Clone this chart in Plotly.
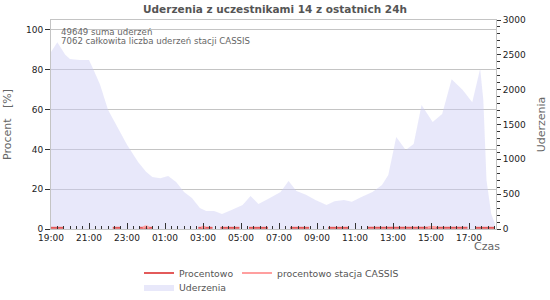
import plotly.graph_objects as go
import pandas as pd

day0 = "2024-01-01"
day1 = "2024-01-02"

# Strike counts (Uderzenia) - time of day and value
strike_times = ["19:00", "19:20", "19:45", "20:00", "20:30", "21:00", "21:15", "21:35",
                "22:00", "22:30", "23:00", "23:35", "00:00", "00:20", "00:45", "01:10",
                "01:35", "02:00", "02:25", "02:50", "03:10", "03:35", "04:00", "04:30",
                "05:05", "05:30", "05:55", "06:25", "07:05", "07:30", "07:55", "08:25",
                "08:55", "09:30", "09:55", "10:25", "10:50", "11:20", "11:55", "12:25",
                "12:45", "13:10", "13:40", "14:05", "14:30", "15:05", "15:35", "16:05",
                "16:40", "17:10", "17:35", "17:45", "17:55", "18:10", "18:22"]
strike_values = [2540, 2680, 2500, 2440, 2425, 2425, 2280, 2070,
                 1710, 1460, 1210, 960, 820, 745, 730, 760,
                 675, 530, 445, 300, 258, 258, 215, 273,
                 345, 475, 360, 430, 530, 690, 545, 490,
                 415, 345, 400, 415, 390, 460, 530, 630,
                 775, 1320, 1135, 1220, 1780, 1535, 1650, 2150,
                 1995, 1820, 2300, 1850, 700, 215, 70]

# Percent series (None = gap)
pct_times = ["19:00", "19:40", "19:50", "22:15", "22:40", "22:50", "23:40", "00:20", "00:30",
             "02:45", "03:30", "03:40", "03:55", "04:55", "05:10", "05:25", "06:25", "07:00",
             "07:35", "08:35", "09:00", "09:35", "10:40", "11:00", "11:40", "16:55", "17:10",
             "17:20", "18:20"]
pct_values = [0.6, 0.6, None, 0.6, 0.6, None, 0.6, 0.6, None,
              0.6, 0.6, None, 0.6, 0.6, None, 0.6, 0.6, None,
              0.6, 0.6, None, 0.6, 0.6, None, 0.6, 0.6, None,
              0.6, 0.6]

cassis_times = ["23:50", "23:57", "00:03", "00:10", "00:15", "02:55", "03:00", "03:08", "03:15",
                "14:50", "14:55", "15:10", "15:15"]
cassis_values = [0.6, 1.2, 1.2, 0.6, None, 0.6, 1.1, 0.9, None,
                 0.6, 1.0, 1.0, 0.6]


def to_dt(times):
    out = []
    for t in times:
        h = int(t[:2])
        d = day0 if h >= 19 else day1
        out.append(pd.Timestamp(f"{d} {t}"))
    return out


def py(px):
    # pixel row -> paper coordinate (plot area spans rows 20..229)
    return (229 - px) / 209


def pxx(px):
    return (px - 51) / 445


fig = go.Figure()

fig.add_trace(go.Scatter(
    x=to_dt(strike_times), y=strike_values, name="Uderzenia",
    mode="lines", line=dict(width=0, color="rgba(204,204,245,0.45)"),
    fill="tozeroy", fillcolor="rgba(204,204,245,0.45)",
    yaxis="y", legend="legend3", hoverinfo="skip"))

fig.add_trace(go.Scatter(
    x=to_dt(pct_times), y=pct_values, name="Procentowo",
    mode="lines", line=dict(width=2, color="#e35a5a"), connectgaps=False,
    yaxis="y2", legend="legend"))

fig.add_trace(go.Scatter(
    x=to_dt(cassis_times), y=cassis_values, name="procentowo stacja CASSIS",
    mode="lines", line=dict(width=2, color="#ff9f9f"), connectgaps=False,
    yaxis="y2", legend="legend2"))

tickfont = dict(family="DejaVu Sans", size=9, color="#222")
gray = "#c4c4c4"
legfont = dict(family="DejaVu Sans", size=9.3, color="#555")

fig.update_layout(
    width=550, height=300,
    margin=dict(l=51, r=54, t=20, b=71, autoexpand=False),
    paper_bgcolor="white", plot_bgcolor="white",
    font=dict(family="DejaVu Sans", size=10, color="#555"),
    title=dict(text="<b>Uderzenia z uczestnikami 14 z ostatnich 24h</b>",
               x=0.5, xanchor="center", y=0.968, yanchor="middle",
               font=dict(family="DejaVu Sans", size=10.5, color="#555")),
    showlegend=True,
    xaxis=dict(type="date",
               range=[pd.Timestamp(f"{day0} 19:00"), pd.Timestamp(f"{day1} 18:25")],
               tick0=pd.Timestamp(f"{day0} 19:00"), dtick=7200000, tickformat="%H:%M",
               ticks="inside", ticklen=6, tickcolor="#333", tickfont=tickfont,
               minor=dict(dtick=1200000, tick0=pd.Timestamp(f"{day0} 19:00"),
                          ticks="inside", ticklen=3, tickcolor="#333", showgrid=False),
               showgrid=False, showline=True, linecolor=gray, mirror=True,
               zeroline=False, fixedrange=True),
    yaxis=dict(side="right", range=[0, 3000], dtick=500, tickfont=tickfont,
               ticks="outside", ticklen=4, tickcolor="#333",
               minor=dict(dtick=100, ticks="outside", ticklen=3, tickcolor="#333"),
               showgrid=False, showline=True, linecolor=gray, zeroline=False,
               title=dict(text="Uderzenia", standoff=12,
                          font=dict(family="DejaVu Sans", size=11, color="#666"))),
    yaxis2=dict(side="left", overlaying="y", range=[0, 105],
                tickvals=[0, 20, 40, 60, 80, 100], tickfont=tickfont,
                ticks="outside", ticklen=5, tickcolor="#333",
                showgrid=True, gridcolor=gray, gridwidth=1,
                showline=True, linecolor=gray, zeroline=False,
                title=dict(text="Procent&nbsp;&nbsp;&nbsp;[%]", standoff=12,
                           font=dict(family="DejaVu Sans", size=11, color="#666"))),
    legend=dict(x=pxx(139), xanchor="left", y=py(273), yanchor="middle",
                itemwidth=30, font=legfont, bgcolor="rgba(0,0,0,0)"),
    legend2=dict(x=pxx(237), xanchor="left", y=py(273), yanchor="middle",
                 itemwidth=30, font=legfont, bgcolor="rgba(0,0,0,0)"),
    legend3=dict(x=pxx(139), xanchor="left", y=py(287), yanchor="middle",
                 itemwidth=30, font=legfont, bgcolor="rgba(0,0,0,0)"),
    annotations=[
        dict(text="49649 suma uderzeń", xref="paper", yref="paper",
             x=pxx(59), y=py(32), xanchor="left", yanchor="middle",
             showarrow=False, font=dict(family="DejaVu Sans", size=8.6, color="#666")),
        dict(text="7062 całkowita liczba uderzeń stacji CASSIS", xref="paper", yref="paper",
             x=pxx(59), y=py(41), xanchor="left", yanchor="middle",
             showarrow=False, font=dict(family="DejaVu Sans", size=8.6, color="#666")),
        dict(text="Czas", xref="paper", yref="paper",
             x=pxx(487), y=py(246), xanchor="center", yanchor="middle",
             showarrow=False, font=dict(family="DejaVu Sans", size=11, color="#666")),
    ],
)

fig.write_html("out.html")
